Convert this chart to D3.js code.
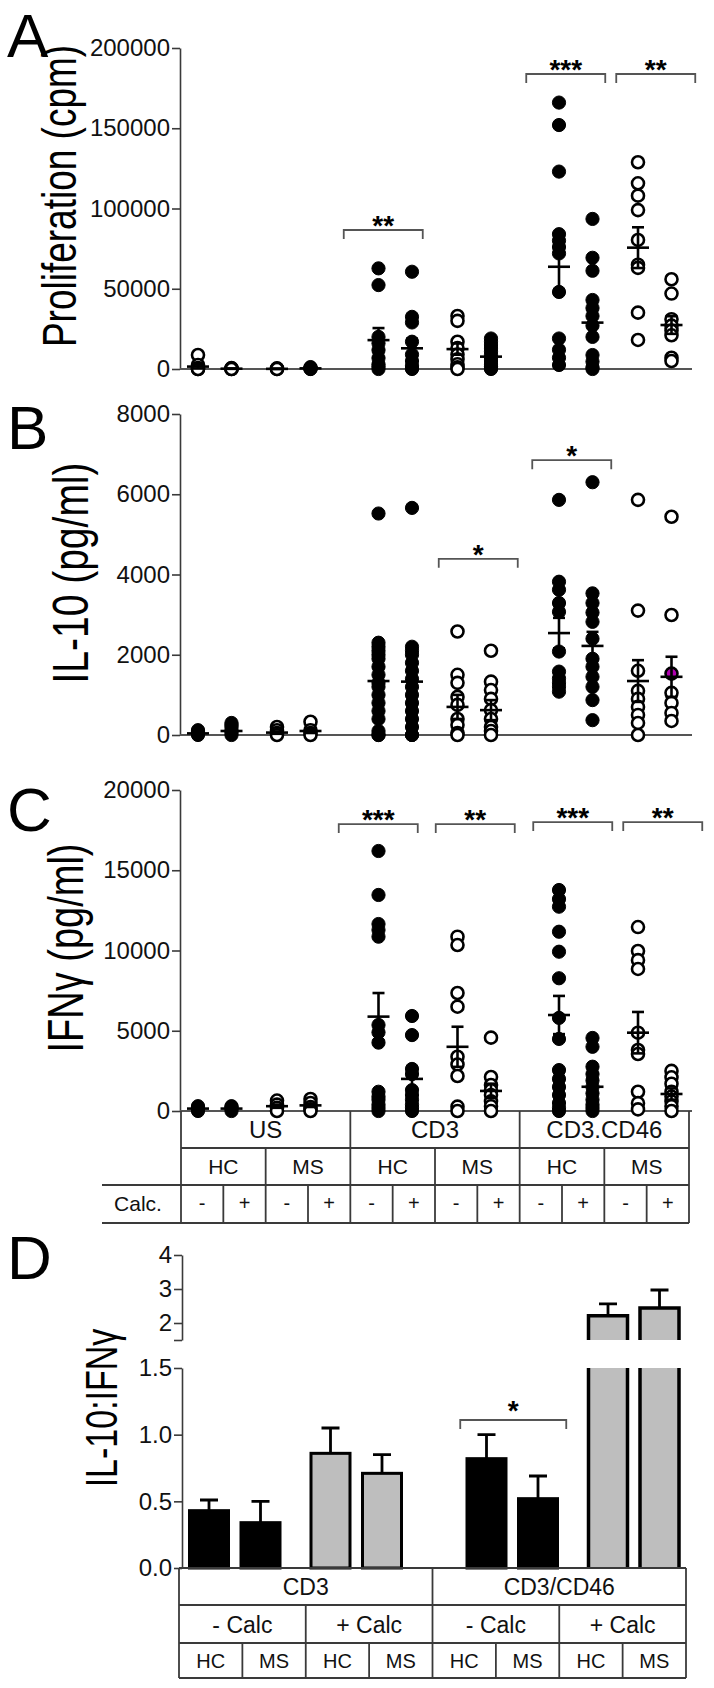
<!DOCTYPE html>
<html><head><meta charset="utf-8">
<script src="https://cdn.jsdelivr.net/npm/d3@7"></script>
<style>body{margin:0;background:#fff}</style>
</head><body>
<svg id="c" width="714" height="1688"></svg>
<script>
// ---------- categories ----------
const stims = ["US", "CD3", "CD3.CD46"];
const groups = ["HC", "MS"];
const calcs = ["-", "+"];

// ---------- tick labels ----------
const profTicks = [0, 50000, 100000, 150000, 200000];
const il10Ticks = [0, 2000, 4000, 6000, 8000];
const ifngTicks = [0, 5000, 10000, 15000, 20000];
const ratioTicksLow = [0, 0.5, 1.0, 1.5];
const ratioTicksHigh = [1.5, 2, 3, 4];

// ---------- Panel A: proliferation (cpm) ----------
const profMarkers = ["open","open","open","filled","filled","filled","open","filled","filled","filled","open","open"];
const profPoints = [
  [8700, 2500, 600, 0, 0],
  [600, 300, 0, 0],
  [400, 100, 0],
  [1200, 800, 500, 300, 100, 0],
  [62700, 52300, 20000, 16000, 11800, 6800, 3000, 1500, 0],
  [60600, 32500, 29000, 17000, 9000, 5000, 2000, 500, 0],
  [33000, 30000, 17000, 13000, 9000, 6000, 3000, 1000, 0],
  [19000, 17000, 15000, 13000, 11000, 9000, 7000, 5000, 3000, 1500, 500, 0],
  [166000, 152000, 123000, 84000, 80000, 76000, 72000, 48000, 19000, 12000, 7000, 2500],
  [93500, 69300, 61200, 43000, 38000, 33000, 27000, 20000, 8700, 4600, 1000, 0],
  [128800, 115700, 108000, 99000, 80400, 65000, 63000, 35100, 18100],
  [55900, 47000, 31000, 27000, 24000, 21000, 7000, 5000]
];
const profMean = [1500, 200, 100, 400, 18000, 12900, 12400, 7700, 63700, 28900, 75600, 27400];
const profSem = [1200, 100, 100, 200, 7500, 6000, 3500, 2000, 15000, 8000, 12700, 5500];

// ---------- Panel B: IL-10 (pg/ml) ----------
const il10Markers = ["filled","filled","open","open","filled","filled","open","open","filled","filled","open","open"];
const il10Points = [
  [120, 80, 50, 30, 0],
  [300, 250, 200, 120, 60, 0],
  [200, 120, 50, 0],
  [330, 120, 50, 0],
  [5520, 2300, 2200, 2100, 2000, 1900, 1700, 1500, 1300, 1200, 1000, 800, 600, 400, 100, 0, 0],
  [5660, 2200, 2100, 2000, 1800, 1600, 1400, 1200, 1000, 800, 600, 400, 200, 0, 0],
  [2580, 1500, 1300, 950, 750, 400, 250, 50, 0],
  [2100, 1330, 1120, 900, 620, 400, 200, 100, 0],
  [5860, 3820, 3620, 3290, 3070, 2080, 1580, 1410, 1300, 1200, 1080],
  [6300, 3530, 3290, 3050, 2820, 2400, 1900, 1700, 1450, 1200, 870, 370],
  [5860, 3100, 1600, 1100, 900, 700, 500, 300, 0],
  [5440, 2990, 1530, 1050, 800, 550, 350]
];
const il10Mean = [40, 100, 60, 100, 1345, 1330, 700, 620, 2540, 2220, 1345, 1450];
const il10Sem = [20, 40, 30, 50, 330, 330, 300, 250, 380, 350, 520, 500];
const il10Highlight = {col: 11, value: 1530};

// ---------- Panel C: IFN-gamma (pg/ml) ----------
const ifngMarkers = ["filled","filled","open","open","filled","filled","open","open","filled","filled","open","open"];
const ifngPoints = [
  [300, 200, 100, 0],
  [300, 250, 150, 0],
  [650, 400, 200, 0],
  [750, 500, 250, 100, 0],
  [16200, 13460, 11650, 11280, 10860, 5360, 4900, 4260, 1200, 900, 700, 400, 200, 0],
  [5920, 4730, 2620, 2300, 1300, 1000, 700, 400, 200, 0],
  [10860, 10340, 7350, 6500, 3380, 2900, 2180, 270, 0],
  [4570, 2120, 1620, 1300, 1000, 600, 300, 0],
  [13770, 13200, 12730, 11170, 9925, 8270, 5800, 4490, 2550, 2000, 1500, 1000, 500, 200, 0],
  [4550, 4000, 2760, 2300, 1900, 1500, 1100, 700, 400, 200, 0],
  [11460, 9970, 9400, 8850, 4880, 3800, 3550, 1200, 490, 100],
  [2500, 2100, 1700, 1200, 900, 600, 300, 0]
];
const ifngMean = [150, 150, 300, 350, 5880, 2000, 4000, 1250, 5980, 1510, 4880, 1060];
const ifngSem = [50, 50, 100, 100, 1470, 600, 1250, 450, 1190, 500, 1290, 350];

// ---------- significance brackets (columns, label, height in data units, shift px) ----------
const profSig = [{a: 4, b: 5, label: "**", v: 86600, shift: -12}, {a: 8, b: 9, label: "***", v: 183800, shift: -10}, {a: 10, b: 11, label: "**", v: 183800, shift: 1}];
const il10Sig = [{a: 6, b: 7, label: "*", v: 4390, shift: 4}, {a: 8, b: 9, label: "*", v: 6850, shift: -4}];
const ifngSig = [{a: 4, b: 5, label: "***", v: 17880, shift: -17}, {a: 6, b: 7, label: "**", v: 17880, shift: 1}, {a: 8, b: 9, label: "***", v: 18000, shift: -3}, {a: 10, b: 11, label: "**", v: 18000, shift: 8}];

// ---------- Panel D: IL-10:IFNg ratio ----------
const dStims = ["CD3", "CD3/CD46"];
const dCalcs = ["- Calc", "+ Calc"];
const dGroups = ["HC", "MS"];
const ratioVals = [0.43, 0.34, 0.86, 0.71, 0.82, 0.52, 2.21, 2.44];
const ratioSem = [0.08, 0.16, 0.19, 0.14, 0.18, 0.17, 0.35, 0.53];
const ratioSig = [{a: 4, b: 5, label: "*", v: 1.11, shift: 1}];

// =====================================================
const FONT = '"Liberation Sans", Arial, Helvetica, sans-serif';
const svg = d3.select("#c");
const AXC = "#3a3a3a";

// shared column x-position scales (panels A-C)
const xStim = d3.scalePoint().domain(stims).range([198, 559]);
const xGroup = d3.scalePoint().domain(groups).range([0, 79]);
const xCalc = d3.scalePoint().domain(calcs).range([0, 33.5]);
const colX = i => xStim(stims[Math.floor(i / 4)]) + xGroup(groups[Math.floor(i / 2) % 2]) + xCalc(calcs[i % 2]);

const yA = d3.scaleLinear().domain([0, 200000]).range([369, 48]);
const yB = d3.scaleLinear().domain([0, 8000]).range([735, 414]);
const yC = d3.scaleLinear().domain([0, 20000]).range([1111, 790]);

// panel letters
[["A", 57], ["B", 449], ["C", 831], ["D", 1279]].forEach(([t, y]) => {
  svg.append("text").attr("x", 7).attr("y", y).attr("font-family", FONT)
    .attr("font-size", 62).attr("fill", "#000").text(t);
});

function leftAxis(scale, ticks, fmt, x) {
  const g = svg.append("g").attr("transform", `translate(${x},0)`)
    .call(d3.axisLeft(scale).tickValues(ticks).tickFormat(fmt).tickSize(8).tickSizeOuter(0).tickPadding(2));
  g.select(".domain").attr("stroke", AXC).attr("stroke-width", 1.6);
  g.selectAll(".tick line").attr("stroke", AXC).attr("stroke-width", 1.6);
  g.selectAll(".tick text").attr("font-size", 24).attr("font-family", FONT).attr("fill", "#111");
  return g;
}

function yTitle(text, cx, cy, fs) {
  const sx = 1.3;
  svg.append("text").attr("transform", `translate(${cx + 0.26 * fs * sx},${cy}) scale(${sx},1) rotate(-90)`)
    .attr("text-anchor", "middle").attr("font-family", FONT).attr("font-size", fs).attr("fill", "#000").text(text);
}

function brackets(list, xOf, y, halfW, leg, starGap) {
  list.forEach(s => {
    const mid = (xOf(s.a) + xOf(s.b)) / 2 + s.shift;
    const yy = y(s.v);
    svg.append("path").attr("d", `M${mid - halfW},${yy + leg}V${yy}H${mid + halfW}V${yy + leg}`)
      .attr("fill", "none").attr("stroke", "#555").attr("stroke-width", 1.8);
    svg.append("text").attr("x", mid).attr("y", yy - starGap + 16).attr("text-anchor", "middle")
      .attr("font-family", FONT).attr("font-weight", "bold").attr("font-size", 28).attr("fill", "#000").text(s.label);
  });
}

function scatterPanel(y, ticks, points, markers, means, sems, sig, title, tcx, tcy, tfs, highlight) {
  leftAxis(y, ticks, d3.format("d"), 180);
  svg.append("line").attr("x1", 180).attr("x2", 692).attr("y1", y(0)).attr("y2", y(0))
    .attr("stroke", "#555").attr("stroke-width", 2);
  yTitle(title, tcx, tcy, tfs);
  points.forEach((col, i) => {
    const g = svg.append("g");
    const filled = markers[i] === "filled";
    g.selectAll("circle").data(col).join("circle")
      .attr("cx", colX(i)).attr("cy", d => y(d))
      .attr("r", filled ? 6.6 : 6)
      .attr("fill", d => (highlight && highlight.col === i && highlight.value === d) ? "#b000b0" : (filled ? "#000" : "#fff"))
      .attr("stroke", "#000").attr("stroke-width", filled ? 1 : 2.6);
  });
  means.forEach((m, i) => {
    const x = colX(i), s = sems[i];
    const g = svg.append("g").attr("stroke", "#000").attr("stroke-width", 2.6);
    g.append("line").attr("x1", x - 11).attr("x2", x + 11).attr("y1", y(m)).attr("y2", y(m));
    g.append("line").attr("x1", x).attr("x2", x).attr("y1", y(m - s)).attr("y2", y(m + s));
    g.append("line").attr("x1", x - 6).attr("x2", x + 6).attr("y1", y(m + s)).attr("y2", y(m + s));
    g.append("line").attr("x1", x - 6).attr("x2", x + 6).attr("y1", y(m - s)).attr("y2", y(m - s));
  });
  brackets(sig, colX, y, 39.5, 9, 11);
}

scatterPanel(yA, profTicks, profPoints, profMarkers, profMean, profSem, profSig, "Proliferation (cpm)", 63, 196, 37);
scatterPanel(yB, il10Ticks, il10Points, il10Markers, il10Mean, il10Sem, il10Sig, "IL-10 (pg/ml)", 75, 573, 39, il10Highlight);
scatterPanel(yC, ifngTicks, ifngPoints, ifngMarkers, ifngMean, ifngSem, ifngSig, "IFNγ (pg/ml)", 70, 948, 38);

// ---------- table under C ----------
(function () {
  const cx = d3.scaleBand().domain(d3.range(12)).range([181, 689]);
  const rows = [yC(0), yC(0) + 37, yC(0) + 74, yC(0) + 112];
  const g = svg.append("g").attr("stroke", AXC).attr("stroke-width", 1.8);
  g.append("line").attr("x1", 181).attr("x2", 689).attr("y1", rows[1]).attr("y2", rows[1]);
  g.append("line").attr("x1", 102).attr("x2", 689).attr("y1", rows[2]).attr("y2", rows[2]);
  g.append("line").attr("x1", 102).attr("x2", 689).attr("y1", rows[3]).attr("y2", rows[3]);
  [0, 4, 8, 12].forEach(k => {
    const x = k === 12 ? 689 : cx(k);
    g.append("line").attr("x1", x).attr("x2", x).attr("y1", rows[0]).attr("y2", rows[3]);
  });
  [2, 6, 10].forEach(k => g.append("line").attr("x1", cx(k)).attr("x2", cx(k)).attr("y1", rows[1]).attr("y2", rows[3]));
  [1, 3, 5, 7, 9, 11].forEach(k => g.append("line").attr("x1", cx(k)).attr("x2", cx(k)).attr("y1", rows[2]).attr("y2", rows[3]));
  const t = svg.append("g").attr("font-family", FONT).attr("fill", "#111").attr("text-anchor", "middle");
  stims.forEach((s, i) => t.append("text").attr("x", cx(i * 4) + cx.bandwidth() * 2).attr("y", rows[0] + 27).attr("font-size", 24).text(s));
  d3.range(6).forEach(i => t.append("text").attr("x", cx(i * 2) + cx.bandwidth()).attr("y", rows[1] + 26).attr("font-size", 21).text(groups[i % 2]));
  d3.range(12).forEach(i => t.append("text").attr("x", cx(i) + cx.bandwidth() / 2).attr("y", rows[2] + 25).attr("font-size", 20).text(calcs[i % 2]));
  t.append("text").attr("x", 138).attr("y", rows[2] + 26).attr("font-size", 21).text("Calc.");
})();

// ---------- Panel D ----------
(function () {
  const yLow = d3.scaleLinear().domain([0, 1.5]).range([1568, 1368]);
  const yHigh = d3.scaleLinear().domain([1.5, 4]).range([1340, 1255]);
  const yAny = v => v <= 1.5 ? yLow(v) : yHigh(v);
  leftAxis(yLow, ratioTicksLow, d3.format(".1f"), 182);
  leftAxis(yHigh, ratioTicksHigh, d => d === 1.5 ? "" : d3.format("d")(d), 182);
  yTitle("IL-10:IFNγ", 106, 1408, 34);

  const xs = d3.scalePoint().domain(dStims).range([209, 486.5]);
  const xc = d3.scalePoint().domain(dCalcs).range([0, 121.5]);
  const xg = d3.scalePoint().domain(dGroups).range([0, 51.5]);
  const barX = i => xs(dStims[Math.floor(i / 4)]) + xc(dCalcs[Math.floor(i / 2) % 2]) + xg(dGroups[i % 2]);
  const bw = 39;
  ratioVals.forEach((v, i) => {
    const x0 = barX(i) - bw / 2, x1 = barX(i) + bw / 2;
    const fill = Math.floor(i / 2) % 2 === 0 ? "#000" : "#bebebe";
    const g = svg.append("g");
    if (v <= 1.5) {
      g.append("rect").attr("x", x0).attr("y", yLow(v)).attr("width", bw).attr("height", yLow(0) - yLow(v))
        .attr("fill", fill).attr("stroke", "#000").attr("stroke-width", 3);
    } else {
      g.append("rect").attr("x", x0).attr("y", yLow(1.5)).attr("width", bw).attr("height", yLow(0) - yLow(1.5)).attr("fill", fill);
      g.append("rect").attr("x", x0).attr("y", yHigh(v)).attr("width", bw).attr("height", yHigh(1.5) - yHigh(v)).attr("fill", fill);
      g.append("path").attr("d", `M${x0},${yLow(0)}V${yLow(1.5)}M${x1},${yLow(0)}V${yLow(1.5)}M${x0},${yHigh(1.5)}V${yHigh(v)}H${x1}V${yHigh(1.5)}`)
        .attr("fill", "none").attr("stroke", "#000").attr("stroke-width", 3.5);
    }
    const top = yAny(v), et = yAny(v + ratioSem[i]);
    g.append("path").attr("d", `M${barX(i)},${top}V${et}M${barX(i) - 9},${et}H${barX(i) + 9}`)
      .attr("fill", "none").attr("stroke", "#000").attr("stroke-width", 2.8);
  });
  brackets(ratioSig, barX, yLow, 53, 9, 16);

  const cx = d3.scaleBand().domain(d3.range(8)).range([179, 686]);
  const rows = [yLow(0), yLow(0) + 37, yLow(0) + 75, yLow(0) + 110];
  const g = svg.append("g").attr("stroke", AXC).attr("stroke-width", 1.8);
  rows.forEach(r => g.append("line").attr("x1", 179).attr("x2", 686).attr("y1", r).attr("y2", r));
  [0, 4, 8].forEach(k => { const x = k === 8 ? 686 : cx(k); g.append("line").attr("x1", x).attr("x2", x).attr("y1", rows[0]).attr("y2", rows[3]); });
  [2, 6].forEach(k => g.append("line").attr("x1", cx(k)).attr("x2", cx(k)).attr("y1", rows[1]).attr("y2", rows[3]));
  [1, 3, 5, 7].forEach(k => g.append("line").attr("x1", cx(k)).attr("x2", cx(k)).attr("y1", rows[2]).attr("y2", rows[3]));
  const t = svg.append("g").attr("font-family", FONT).attr("fill", "#111").attr("text-anchor", "middle");
  dStims.forEach((s, i) => t.append("text").attr("x", cx(i * 4) + cx.bandwidth() * 2).attr("y", rows[0] + 27).attr("font-size", 23).text(s));
  d3.range(4).forEach(i => t.append("text").attr("x", cx(i * 2) + cx.bandwidth()).attr("y", rows[1] + 28).attr("font-size", 23).text(dCalcs[i % 2]));
  d3.range(8).forEach(i => t.append("text").attr("x", cx(i) + cx.bandwidth() / 2).attr("y", rows[2] + 25).attr("font-size", 20).text(dGroups[i % 2]));
})();
</script>
</body></html>
